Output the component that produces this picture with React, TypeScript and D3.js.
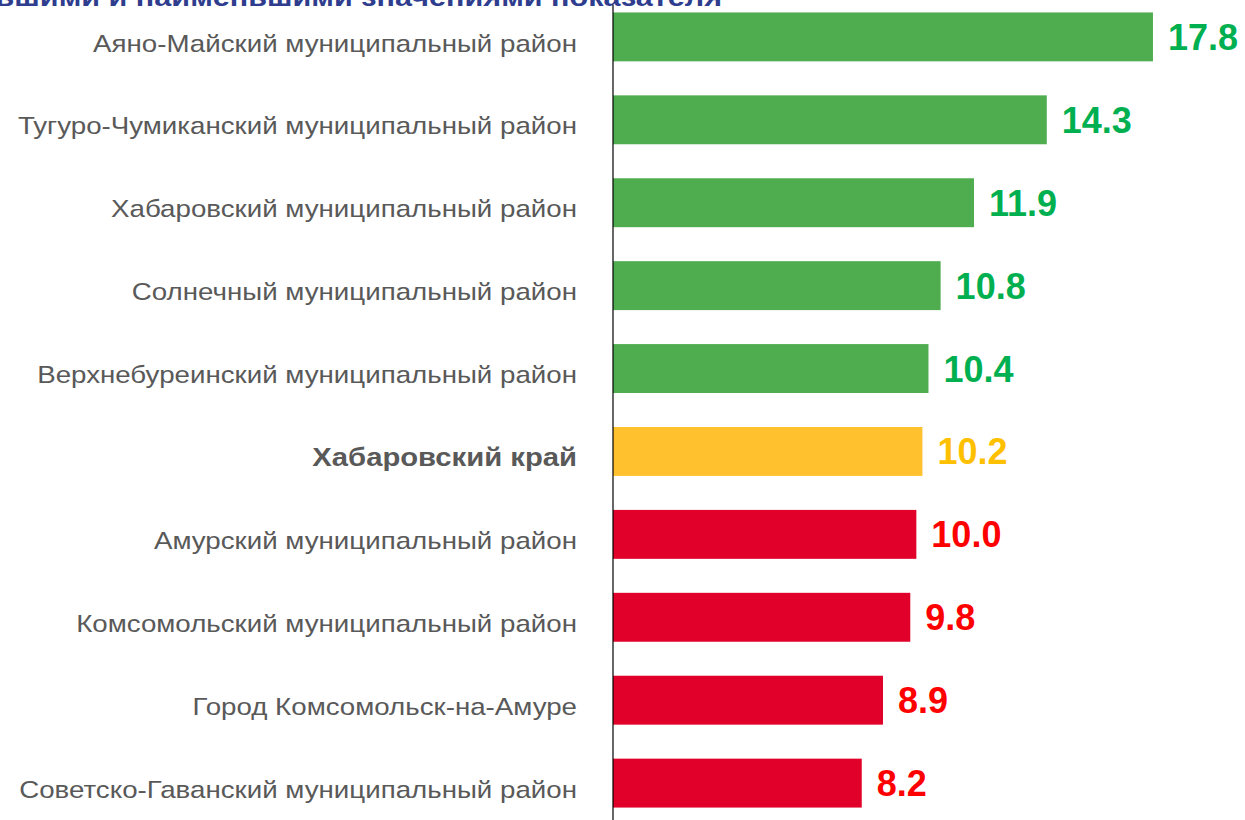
import React from 'react';
import * as d3 from 'd3';

// Data
const regions = [
  'Аяно-Майский муниципальный район',
  'Тугуро-Чумиканский муниципальный район',
  'Хабаровский муниципальный район',
  'Солнечный муниципальный район',
  'Верхнебуреинский муниципальный район',
  'Хабаровский край',
  'Амурский муниципальный район',
  'Комсомольский муниципальный район',
  'Город Комсомольск-на-Амуре',
  'Советско-Гаванский муниципальный район',
];
const values = [17.8, 14.3, 11.9, 10.8, 10.4, 10.2, 10.0, 9.8, 8.9, 8.2];
const groups = ['top', 'top', 'top', 'top', 'top', 'total', 'bottom', 'bottom', 'bottom', 'bottom'];
const title = 'Муниципальные образования с наибольшими и наименьшими значениями показателя';

const barColor: Record<string, string> = { top: '#4fad50', total: '#ffc22e', bottom: '#e0002a' };
const valueColor: Record<string, string> = { top: '#00b050', total: '#ffc000', bottom: '#ff0000' };

const W = 1245, H = 820;
const axisX = 613;
const stretch = 1.155; // the source text is drawn a bit wide

export default function App() {
  const y = d3.scaleBand<string>().domain(regions).range([0, H]).paddingInner(0.41).paddingOuter(0.15);
  const x = d3.scaleLinear().domain([0, 20]).range([axisX, axisX + 606.7]);

  return (
    <svg width={W} height={H} style={{ position: 'absolute', left: 0, top: 0, background: '#fff' }}
      fontFamily="Arial, 'Liberation Sans', sans-serif">
      {/* title, cut off at the top edge as in the source */}
      <text transform={`translate(722,6) scale(${stretch},1)`} textAnchor="end" fontSize={26.5}
        fontWeight="bold" fill="#2f3d8f">{title}</text>

      {regions.map((r, i) => {
        const by = y(r)!;
        const bh = y.bandwidth();
        const g = groups[i];
        const bold = g === 'total';
        return (
          <g key={r}>
            <rect x={x(0)} y={by} width={x(values[i]) - x(0)} height={bh} fill={barColor[g]} />
            <text x={x(values[i]) + 15} y={by + bh / 2} dy="0.36em" fontSize={36} fontWeight="bold" fill={valueColor[g]}>
              {values[i].toFixed(1)}
            </text>
            <text transform={`translate(577,${by + bh / 2 + 6}) scale(${bold ? 1.17 : stretch},1)`} dy="0.36em"
              textAnchor="end" fontSize={bold ? 25 : 24} fontWeight={bold ? 'bold' : 'normal'} fill="#595959">
              {r}
            </text>
          </g>
        );
      })}

      <line x1={axisX} x2={axisX} y1={5} y2={H} stroke="#000" strokeWidth={1.2} />
    </svg>
  );
}
